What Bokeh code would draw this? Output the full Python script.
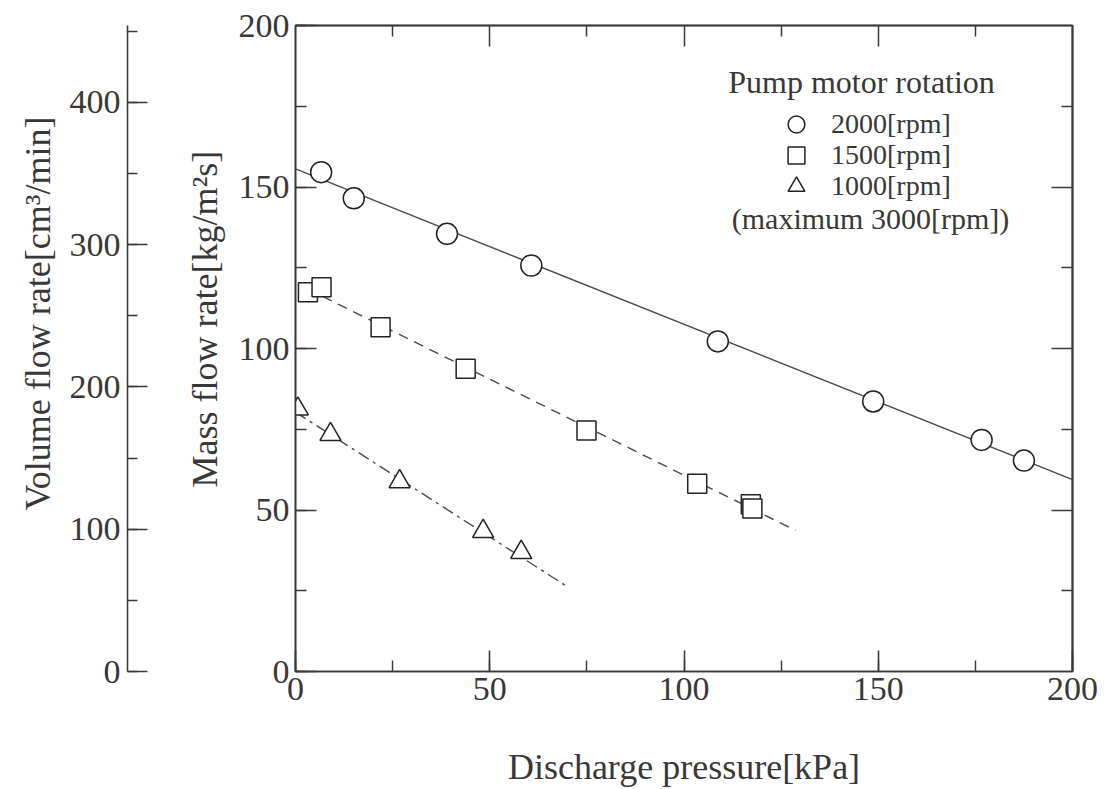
from bokeh.plotting import figure
from bokeh.models import (Range1d, LinearAxis, SingleIntervalTicker, FixedTicker,
                          Legend, LegendItem, Label, Title)
from bokeh.layouts import row
from bokeh.embed import file_html
from bokeh.resources import INLINE

# ---------------- data ----------------
rpm2000_p = [6.6, 15.0, 39.0, 60.7, 108.7, 148.7, 176.6, 187.5]
rpm2000_m = [154.6, 146.5, 135.5, 125.7, 102.2, 83.6, 71.7, 65.3]
rpm1500_p = [3.2, 6.7, 21.9, 43.8, 74.9, 103.4, 117.2, 117.6]
rpm1500_m = [117.4, 119.0, 106.6, 93.7, 74.6, 58.1, 51.8, 50.5]
rpm1000_p = [0.6, 9.0, 26.8, 48.3, 58.1]
rpm1000_m = [81.3, 73.4, 58.8, 43.4, 36.9]

fit2000_p = [0, 200]
fit2000_m = [155.6, 59.4]
fit1500_p = [7, 128.7]
fit1500_m = [116.1, 43.7]
fit1000_p = [0, 69.9]
fit1000_m = [80.3, 26.3]

series_labels = ["2000[rpm]", "1500[rpm]", "1000[rpm]"]
legend_title = "Pump motor rotation"
legend_note = "(maximum 3000[rpm])"
x_title = "Discharge pressure[kPa]"
y_title = "Mass flow rate[kg/m²s]"
y2_title = "Volume flow rate[cm³/min]"
mass_max = 200
volume_max = 454
frame_major = [50, 100, 150]          # unlabeled ticks on top/right frame edges
frame_minor = [25, 75, 125, 175]

# ---------------- style ----------------
FONT = "Liberation Serif"
TXT = "#383838"
AX = "#3a3a3a"
H = 789
TOP = 25
BOTTOM = 118


def title_style(t):
    t.text_font = FONT
    t.text_font_size = "36px"
    t.text_font_style = "normal"
    t.text_color = TXT


# ---------- left figure: volume flow rate axis ----------
f1 = figure(width=150, height=H, output_backend="svg", toolbar_location=None,
            x_range=Range1d(0, 1), y_range=Range1d(0, volume_max),
            min_border_left=127, min_border_right=0,
            min_border_top=TOP, min_border_bottom=BOTTOM,
            x_axis_location=None, y_axis_location="left")
f1.outline_line_color = None
f1.grid.visible = False
ax1 = f1.yaxis[0]
ax1.ticker = SingleIntervalTicker(interval=100, num_minor_ticks=2)
ax1.major_tick_in = 20
ax1.major_tick_out = 0
ax1.minor_tick_in = 10
ax1.minor_tick_out = 0
ax1.axis_line_color = AX
ax1.axis_line_width = 1.6
ax1.major_tick_line_color = AX
ax1.major_tick_line_width = 1.6
ax1.minor_tick_line_color = AX
ax1.minor_tick_line_width = 1.4
ax1.major_label_text_font = FONT
ax1.major_label_text_font_size = "34px"
ax1.major_label_text_color = TXT
ax1.major_label_standoff = 7
t1 = Title(text=y2_title, align="left", offset=161, standoff=18)
title_style(t1)
f1.add_layout(t1, "left")

# ---------- main figure ----------
p = figure(width=956, height=H, output_backend="svg", toolbar_location=None,
           x_range=Range1d(0, 200), y_range=Range1d(0, mass_max),
           min_border_left=145, min_border_right=34,
           min_border_top=TOP, min_border_bottom=BOTTOM)
p.outline_line_color = AX
p.outline_line_width = 1.6
p.grid.visible = False


def style_axis(a):
    a.major_tick_in = 21
    a.major_tick_out = 0
    a.minor_tick_in = 11
    a.minor_tick_out = 0
    a.axis_line_color = AX
    a.axis_line_width = 1.6
    a.major_tick_line_color = AX
    a.major_tick_line_width = 1.6
    a.minor_tick_line_color = AX
    a.minor_tick_line_width = 1.4
    a.major_label_text_font = FONT
    a.major_label_text_color = TXT
    a.major_label_text_font_size = "34px"


for a in (p.xaxis[0], p.yaxis[0]):
    a.ticker = SingleIntervalTicker(interval=50, num_minor_ticks=2)
    style_axis(a)
p.xaxis[0].major_label_standoff = 6
p.yaxis[0].major_label_standoff = 6
p.xaxis[0].axis_label = x_title
p.xaxis[0].axis_label_text_font = FONT
p.xaxis[0].axis_label_text_font_size = "36px"
p.xaxis[0].axis_label_text_font_style = "normal"
p.xaxis[0].axis_label_text_color = TXT
p.xaxis[0].axis_label_standoff = 44

t2 = Title(text=y_title, align="left", offset=184, standoff=22)
title_style(t2)
p.add_layout(t2, "left")

# unlabeled tick marks along the top and right frame edges (minor-only tickers)
for side in ("above", "right"):
    for ticks, length in ((frame_major, 21), (frame_minor, 11)):
        ax = LinearAxis(ticker=FixedTicker(ticks=[], minor_ticks=ticks))
        ax.minor_tick_in = length
        ax.minor_tick_out = 0
        ax.major_tick_in = 0
        ax.major_tick_out = 0
        ax.minor_tick_line_color = AX
        ax.minor_tick_line_width = 1.5
        ax.axis_line_color = AX
        ax.axis_line_width = 1.6
        ax.major_label_standoff = 0
        p.add_layout(ax, side)

LINE = "#4a4a4a"
p.line(fit2000_p, fit2000_m, line_color=LINE, line_width=1.4)
p.line(fit1500_p, fit1500_m, line_color=LINE, line_width=1.4, line_dash="10 7")
p.line(fit1000_p, fit1000_m, line_color=LINE, line_width=1.4, line_dash="12 5 3 5")

MK = dict(line_color="#222222", line_width=1.5, fill_color="white")
r_c = p.scatter(rpm2000_p, rpm2000_m, marker="circle", size=21, **MK)
r_s = p.scatter(rpm1500_p, rpm1500_m, marker="square", size=19, **MK)
r_t = p.scatter(rpm1000_p, rpm1000_m, marker="triangle", size=21, **MK)

# one single-entry legend per row so the rows can sit as close as in the original
row_bottoms = [526, 495, 464]
for lab, rend, yb in zip(series_labels, (r_c, r_s, r_t), row_bottoms):
    lg = Legend(items=[LegendItem(label=lab, renderers=[rend])],
                location=(480, yb), orientation="vertical",
                glyph_width=42, glyph_height=42, spacing=0,
                label_standoff=14, padding=0, margin=0,
                border_line_color=None, background_fill_alpha=0,
                label_text_font=FONT, label_text_font_size="28px",
                label_text_color=TXT)
    p.add_layout(lg, "center")

p.add_layout(Label(x=145.7, y=182.4, text=legend_title, text_align="center",
                   text_baseline="middle", text_font=FONT, text_font_size="32px",
                   text_color=TXT))
p.add_layout(Label(x=148.0, y=140.3, text=legend_note, text_align="center",
                   text_baseline="middle", text_font=FONT, text_font_size="30px",
                   text_color=TXT))

layout = row(f1, p, spacing=0)
open("out.html", "w").write(file_html(layout, INLINE))
